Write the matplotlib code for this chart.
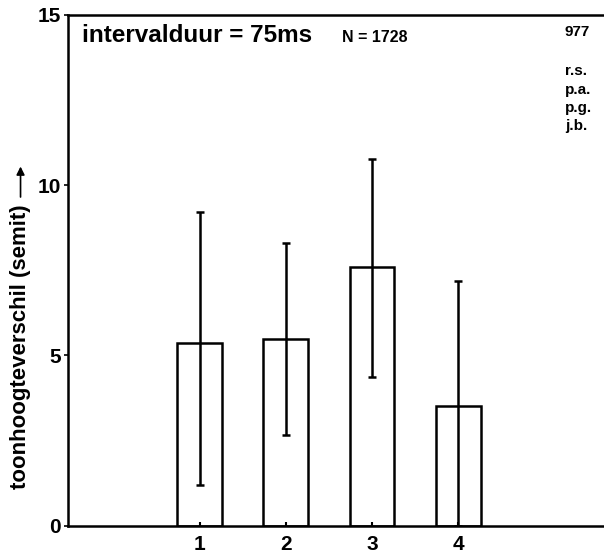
import matplotlib.pyplot as plt

plt.rcParams['font.family'] = ['Liberation Sans', 'DejaVu Sans']
plt.rcParams['font.weight'] = 'bold'

# data
conditions = [1, 2, 3, 4]
means = [5.35, 5.49, 7.6, 3.51]
err_low = [1.18, 2.65, 4.37, 0.0]
err_high = [9.2, 8.31, 10.76, 7.19]
y_ticks = [0, 5, 10, 15]
observers = ['r.s.', 'p.a.', 'p.g.', 'j.b.']

yerr = [[m - lo for m, lo in zip(means, err_low)],
        [hi - m for m, hi in zip(means, err_high)]]

fig = plt.figure(figsize=(6.04, 5.55), dpi=100)
ax = fig.add_axes([0.1126, 0.053, 0.8874, 0.920])

ax.bar(conditions, means, width=0.52, color='white', edgecolor='black', linewidth=1.8)
ax.errorbar(conditions, means, yerr=yerr, fmt='none', ecolor='black',
            elinewidth=1.8, capsize=3, capthick=1.8)

ax.set_xlim(-0.526, 5.69)
ax.set_ylim(0, 15)
ax.spines['right'].set_visible(False)
for s in ['left', 'bottom', 'top']:
    ax.spines[s].set_linewidth(1.8)

ax.set_yticks(y_ticks)
ax.set_xticks(conditions)
ax.tick_params(axis='y', direction='out', length=3, width=1.2, labelsize=15, pad=2)
ax.tick_params(axis='x', direction='in', length=3, width=1.5, labelsize=15, pad=7)

fig.text(0.136, 0.924, 'intervalduur = 75ms', fontsize=17.5,
         va='baseline', ha='left', fontweight='bold')
fig.text(0.566, 0.924, 'N = 1728', fontsize=11.5,
         va='baseline', ha='left', fontweight='bold')
fig.text(0.935, 0.935, '977', fontsize=11,
         va='baseline', ha='left', fontweight='bold')
for i, name in enumerate(observers):
    fig.text(0.935, 0.864 - i * 0.033, name, fontsize=11,
             va='baseline', ha='left', fontweight='bold')

fig.text(0.034, 0.375, 'toonhoogteverschil (semit)', rotation=90,
         fontsize=16, fontweight='bold', ha='center', va='center')
ax.annotate('', xy=(0.034, 0.705), xytext=(0.034, 0.64),
            xycoords='figure fraction', textcoords='figure fraction',
            arrowprops=dict(arrowstyle='-|>', color='black', lw=1.2,
                            mutation_scale=12))

plt.savefig('out.png', dpi=100)
